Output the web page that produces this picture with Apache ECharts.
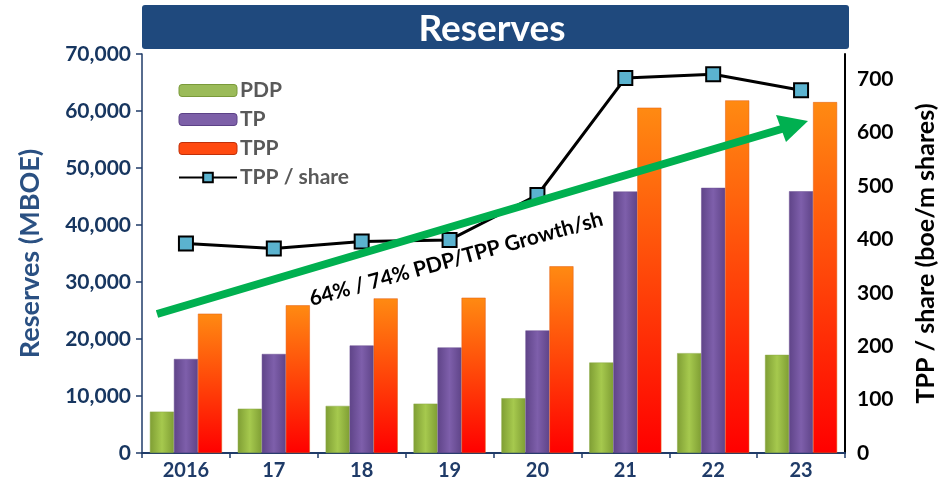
<!DOCTYPE html>
<html>
<head>
<meta charset="utf-8">
<script src="https://cdn.jsdelivr.net/npm/echarts@6/dist/echarts.min.js"></script>
<style>html,body{margin:0;padding:0;background:#fff}#c{width:951px;height:482px}</style>
</head>
<body>
<div id="c"></div>
<script>
const categories = ['2016', '17', '18', '19', '20', '21', '22', '23'];
const pdp = [7250, 7770, 8260, 8660, 9610, 15870, 17520, 17220];
const tp = [16490, 17370, 18860, 18510, 21500, 45870, 46520, 45920];
const tpp = [24440, 25910, 27120, 27240, 32750, 60580, 61860, 61560];
const tppPerShare = [392, 383, 396, 399, 483, 702, 709, 679];
const leftTicks = { min: 0, max: 70000, interval: 10000 };
const rightTicks = { min: 0, max: 747, interval: 100 };

const chart = echarts.init(document.getElementById('c'), null, { renderer: 'canvas' });
const FONT = 'Lato, "Open Sans", sans-serif';

function vgrad(top, bottom) {
  return new echarts.graphic.LinearGradient(0, 0, 0, 1, [
    { offset: 0, color: top }, { offset: 1, color: bottom }
  ]);
}
function hgrad(edge, mid) {
  return new echarts.graphic.LinearGradient(0, 0, 1, 0, [
    { offset: 0, color: edge }, { offset: 0.5, color: mid }, { offset: 1, color: edge }
  ]);
}

const greenFill = hgrad('#7f9e34', '#a6c94e');
const purpleFill = hgrad('#5f4488', '#7e5fab');
const orangeFill = vgrad('#ff8a12', '#ff0000');

chart.setOption({
  animation: false,
  backgroundColor: '#ffffff',
  grid: { left: 142, right: 106, top: 54, bottom: 29, containLabel: false },
  legend: {
    orient: 'vertical', left: 178, top: 80, padding: 0, itemWidth: 58, itemHeight: 12, itemGap: 8,
    textStyle: { color: '#595959', fontWeight: 'bold', fontSize: 21, fontFamily: FONT, padding: [0, 0, 0, -2] },
    data: [
      { name: 'PDP', itemStyle: { color: '#9bbb59', borderColor: '#7a9a3a', borderWidth: 1 } },
      { name: 'TP', itemStyle: { color: '#7d60a8', borderColor: '#5c4287', borderWidth: 1 } },
      { name: 'TPP', itemStyle: { color: '#ff4a10', borderColor: '#c0300a', borderWidth: 1 } },
      { name: 'TPP / share' }
    ]
  },
  xAxis: {
    type: 'category', data: categories,
    axisLine: { lineStyle: { color: '#1f3b68', width: 2 } },
    axisTick: { show: true, length: 5, lineStyle: { color: '#1f3b68', width: 1.5 } },
    axisLabel: { color: '#1f3b68', fontWeight: 'bold', fontSize: 20, fontFamily: FONT, margin: 8 }
  },
  yAxis: [
    {
      type: 'value', min: leftTicks.min, max: leftTicks.max, interval: leftTicks.interval,
      name: 'Reserves (MBOE)', nameLocation: 'middle', nameRotate: 90, nameGap: 98,
      nameTextStyle: { color: '#2a5082', fontWeight: 'bold', fontSize: 27, fontFamily: FONT },
      axisLine: { show: true, lineStyle: { color: '#1f3b68', width: 1.5 } },
      axisTick: { show: true, length: 6, lineStyle: { color: '#1f3b68', width: 1.5 } },
      splitLine: { show: false },
      axisLabel: {
        color: '#173660', fontWeight: 'bold', fontSize: 21, fontFamily: FONT, margin: 11,
        formatter: v => v.toLocaleString('en-US')
      }
    },
    {
      type: 'value', min: rightTicks.min, max: rightTicks.max, interval: rightTicks.interval,
      position: 'right',
      name: 'TPP / share (boe/m shares)', nameLocation: 'middle', nameRotate: 90, nameGap: 68,
      nameTextStyle: { color: '#000000', fontWeight: 'bold', fontSize: 25, fontFamily: FONT },
      axisLine: { show: true, lineStyle: { color: '#000000', width: 2 } },
      axisTick: { show: false },
      splitLine: { show: false },
      axisLabel: { color: '#000000', fontWeight: 'bold', fontSize: 21, fontFamily: FONT, margin: 12, showMaxLabel: false }
    }
  ],
  series: [
    {
      name: 'PDP', type: 'bar', data: pdp, barGap: '0%', barCategoryGap: '18%',
      itemStyle: { color: greenFill, borderColor: '#8aa845', borderWidth: 0.5 }
    },
    {
      name: 'TP', type: 'bar', data: tp, barGap: '0%', barCategoryGap: '18%',
      itemStyle: { color: purpleFill, borderColor: '#6a4f93', borderWidth: 0.5 }
    },
    {
      name: 'TPP', type: 'bar', data: tpp, barGap: '0%', barCategoryGap: '18%',
      itemStyle: { color: orangeFill, borderColor: '#e05a10', borderWidth: 0.5 }
    },
    {
      name: 'TPP / share', type: 'line', yAxisIndex: 1, data: tppPerShare,
      symbol: 'rect', symbolSize: 14, z: 5,
      lineStyle: { color: '#000000', width: 3 },
      itemStyle: { color: '#5bb3cf', borderColor: '#000000', borderWidth: 2 }
    }
  ],
  graphic: [
    {
      type: 'rect', shape: { x: 142, y: 5, width: 707, height: 44, r: 3 },
      style: { fill: '#1f497d' }, z: 10
    },
    {
      type: 'text', x: 492, y: 29, z: 11,
      style: { text: 'Reserves', fill: '#ffffff', font: 'bold 37px ' + FONT, align: 'center', verticalAlign: 'middle' }
    },
    {
      type: 'line', shape: { x1: 157, y1: 314, x2: 785, y2: 128 },
      style: { stroke: '#00b050', lineWidth: 8 }, z: 6
    },
    {
      type: 'polygon', shape: { points: [[808, 121], [776, 115], [786, 142]] },
      style: { fill: '#00b050' }, z: 6
    },
    {
      type: 'text', x: 456, y: 259, rotation: 0.27, z: 7,
      style: { text: '64% / 74% PDP/TPP Growth/sh', fill: '#000000', font: 'bold 21px ' + FONT, align: 'center', verticalAlign: 'middle' }
    }
  ]
});
</script>
</body>
</html>
